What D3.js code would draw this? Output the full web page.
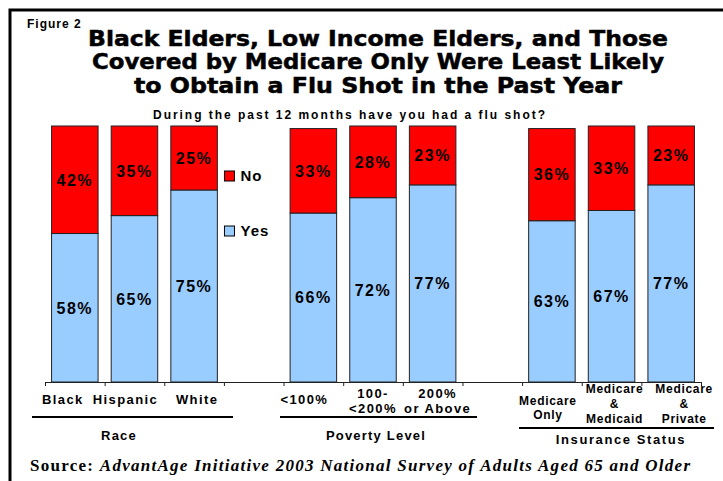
<!DOCTYPE html>
<html>
<head>
<meta charset="utf-8">
<script src="https://cdn.jsdelivr.net/npm/d3@7"></script>
<style>
  body { margin: 0; background: #fff; }
  svg { display: block; font-family: 'Liberation Sans', Arial, sans-serif; }
</style>
</head>
<body>
<div id="chart"></div>
<script>
// data
const groups = ['Race', 'Poverty Level', 'Insurance Status']
const categories = ['Black', 'Hispanic', 'White', '<100%', '100-<200%', '200% or Above', 'Medicare Only', 'Medicare & Medicaid', 'Medicare & Private']
const categoryGroup = [0, 0, 0, 1, 1, 1, 2, 2, 2]
const categoryLines = [['Black'], ['Hispanic'], ['White'], ['<100%'], ['100-', '<200%'], ['200%', 'or Above'], ['Medicare', 'Only'], ['Medicare', '&', 'Medicaid'], ['Medicare', '&', 'Private']]
const yesValues = [58, 65, 75, 66, 72, 77, 63, 67, 77]
const noValues = [42, 35, 25, 33, 28, 23, 36, 33, 23]
const seriesNames = ['No', 'Yes']

const width = 723, height = 481
const colors = { Yes: '#99ccff', No: '#ff0000' }
const plot = { left: 45, right: 701, top: 126, bottom: 382 }
// label nudges (the original labels are not quite centred)
const labelDx = [-12, -9, 3, -9, 0, 5, -4, 3, 13]

const svg = d3.select('#chart').append('svg')
  .attr('width', width).attr('height', height)

// frame
svg.append('rect')
  .attr('x', 10).attr('y', 10).attr('width', 740).attr('height', 520)
  .attr('fill', 'none').attr('stroke', '#000').attr('stroke-width', 3)

// titles
svg.append('text')
  .attr('x', 27).attr('y', 28)
  .attr('font-size', 12).attr('font-weight', 'bold').attr('letter-spacing', 1)
  .text('Figure 2')

const titleLines = [
  { t: 'Black Elders, Low Income Elders, and Those', y: 46, w: 580 },
  { t: 'Covered by Medicare Only Were Least Likely', y: 69, w: 572 },
  { t: 'to Obtain a Flu Shot in the Past Year', y: 93, w: 488 }
]
svg.selectAll('.title').data(titleLines).join('text')
  .attr('class', 'title')
  .attr('x', 378).attr('y', d => d.y)
  .attr('text-anchor', 'middle')
  .attr('font-family', "'DejaVu Sans', sans-serif")
  .attr('font-size', 21).attr('font-weight', 'bold')
  .attr('textLength', d => d.w).attr('lengthAdjust', 'spacingAndGlyphs')
  .style('stroke', '#000').style('stroke-width', 0.5)
  .text(d => d.t)

svg.append('text')
  .attr('x', 349).attr('y', 119)
  .attr('text-anchor', 'middle')
  .attr('font-size', 12).attr('font-weight', 'bold')
  .attr('textLength', 392).attr('lengthAdjust', 'spacing')
  .text('During the past 12 months have you had a flu shot?')

// slots: categories with a spacer between groups
const slots = []
categories.forEach((c, i) => {
  if (i > 0 && categoryGroup[i] !== categoryGroup[i - 1]) slots.push('gap' + categoryGroup[i])
  slots.push(c)
})

const x = d3.scaleBand().domain(slots).range([plot.left, plot.right])
  .paddingInner(0.22).paddingOuter(0.11)
const xEdge = d3.scaleLinear().domain([0, slots.length]).range([plot.left, plot.right])
const y = d3.scaleLinear().domain([0, 100]).range([plot.bottom, plot.top])

const rows = categories.map((c, i) => ({ c, yes: yesValues[i], no: noValues[i] }))

const bars = svg.append('g').selectAll('g').data(rows).join('g')
  .attr('transform', d => `translate(${x(d.c)},0)`)

bars.append('rect')
  .attr('y', d => y(d.yes)).attr('width', x.bandwidth())
  .attr('height', d => y(0) - y(d.yes))
  .attr('fill', colors.Yes).attr('stroke', '#222').attr('stroke-width', 1)

bars.append('rect')
  .attr('y', d => y(d.yes + d.no)).attr('width', x.bandwidth())
  .attr('height', d => y(d.yes) - y(d.yes + d.no))
  .attr('fill', colors.No).attr('stroke', '#222').attr('stroke-width', 1)

const pct = g => g.attr('x', x.bandwidth() / 2).attr('text-anchor', 'middle')
  .attr('font-size', 16).attr('font-weight', 'bold').attr('letter-spacing', 1.5)
  .attr('dy', '0.36em')

bars.append('text').call(pct)
  .attr('y', d => y(d.yes / 2))
  .text(d => d.yes + '%')

bars.append('text').call(pct)
  .attr('y', d => y(d.yes + d.no / 2))
  .text(d => d.no + '%')

// axis with ticks at slot edges
svg.append('g')
  .attr('transform', `translate(0,${plot.bottom})`)
  .call(d3.axisBottom(xEdge).tickValues(d3.range(slots.length + 1)).tickFormat('').tickSize(4).tickSizeOuter(0))
  .call(g => g.selectAll('path, line').attr('stroke', '#222'))

// category labels
const lineBase = { 1: [404], 2: [398, 413], 3: [393, 408, 423] }
const labelGroup = svg.append('g')
categories.forEach((c, i) => {
  const lines = categoryLines[i]
  const ins = categoryGroup[i] === 2
  let base = lineBase[lines.length]
  if (ins && lines.length === 2) base = [405, 419]
  labelGroup.append('text')
    .attr('text-anchor', 'middle')
    .attr('font-size', ins ? 12 : 13).attr('font-weight', 'bold')
    .attr('letter-spacing', ins ? 0.7 : 1.4)
    .selectAll('tspan').data(lines).join('tspan')
    .attr('x', x(c) + x.bandwidth() / 2 + labelDx[i])
    .attr('y', (d, k) => base[k])
    .text(d => d)
})

// group underlines and names
const groupLayout = [
  { x1: 32, x2: 233, ly: 417, cx: 119, ty: 440, ls: 1.2 },
  { x1: 280, x2: 477, ly: 417, cx: 376, ty: 440, ls: 1.2 },
  { x1: 519, x2: 714, ly: 428, cx: 621, ty: 444, ls: 1.6 }
]
groups.forEach((gName, i) => {
  const L = groupLayout[i]
  svg.append('line')
    .attr('x1', L.x1).attr('x2', L.x2).attr('y1', L.ly).attr('y2', L.ly)
    .attr('stroke', '#000').attr('stroke-width', 2)
  svg.append('text')
    .attr('x', L.cx).attr('y', L.ty).attr('text-anchor', 'middle')
    .attr('font-size', 13).attr('font-weight', 'bold').attr('letter-spacing', L.ls)
    .text(gName)
})

// legend in first spacer slot
const legend = svg.append('g').attr('transform', `translate(${x('gap1') - 7},0)`)
const legendY = { No: 171, Yes: 226 }
seriesNames.forEach(s => {
  legend.append('rect')
    .attr('x', 1).attr('y', legendY[s]).attr('width', 10).attr('height', 10)
    .attr('fill', colors[s]).attr('stroke', '#000').attr('stroke-width', 1)
  legend.append('text')
    .attr('x', 17).attr('y', legendY[s] + 10)
    .attr('font-size', 15).attr('font-weight', 'bold').attr('letter-spacing', 1)
    .text(s)
})

// source
const src = svg.append('text')
  .attr('x', 30).attr('y', 471)
  .attr('font-family', "'Liberation Serif', 'Times New Roman', serif")
  .attr('font-size', 17).attr('font-weight', 'bold')
  .attr('textLength', 660).attr('lengthAdjust', 'spacing')
src.append('tspan').text('Source: ')
src.append('tspan').attr('font-style', 'italic')
  .text('AdvantAge Initiative 2003 National Survey of Adults Aged 65 and Older')
</script>
</body>
</html>
